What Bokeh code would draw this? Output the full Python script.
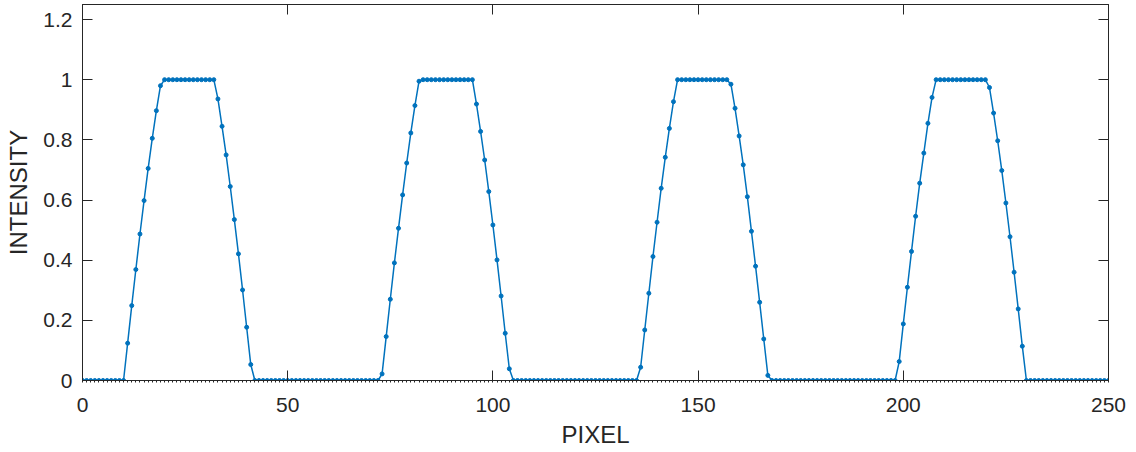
from bokeh.plotting import figure
from bokeh.models import LinearAxis, FixedTicker, CustomJSTickFormatter, Range1d, ColumnDataSource
from bokeh.embed import file_html
from bokeh.resources import INLINE

# ---- data ----
pixel = list(range(251))
intensity = [
    0, 0, 0, 0, 0, 0, 0, 0, 0, 0, 0,
    0.124, 0.249, 0.369, 0.487, 0.598, 0.705, 0.805, 0.897, 0.980,
    1, 1, 1, 1, 1, 1, 1, 1, 1, 1, 1, 1, 1,
    0.936, 0.845, 0.750, 0.645, 0.535, 0.421, 0.301, 0.177, 0.053,
    0, 0, 0, 0, 0, 0, 0, 0, 0, 0, 0, 0, 0, 0, 0, 0, 0, 0, 0, 0, 0, 0, 0, 0, 0, 0, 0, 0, 0, 0, 0,
    0.022, 0.146, 0.270, 0.391, 0.506, 0.617, 0.723, 0.823, 0.914, 0.995,
    1, 1, 1, 1, 1, 1, 1, 1, 1, 1, 1, 1, 1,
    0.919, 0.828, 0.733, 0.628, 0.517, 0.401, 0.281, 0.157, 0.039,
    0, 0, 0, 0, 0, 0, 0, 0, 0, 0, 0, 0, 0, 0, 0, 0, 0, 0, 0, 0, 0, 0, 0, 0, 0, 0, 0, 0, 0, 0, 0,
    0.044, 0.168, 0.290, 0.412, 0.526, 0.639, 0.742, 0.838, 0.927,
    1, 1, 1, 1, 1, 1, 1, 1, 1, 1, 1, 1, 1,
    0.985, 0.905, 0.813, 0.717, 0.611, 0.496, 0.380, 0.260, 0.138, 0.017,
    0, 0, 0, 0, 0, 0, 0, 0, 0, 0, 0, 0, 0, 0, 0, 0, 0, 0, 0, 0, 0, 0, 0, 0, 0, 0, 0, 0, 0, 0, 0,
    0.063, 0.188, 0.310, 0.429, 0.546, 0.656, 0.756, 0.855, 0.941,
    1, 1, 1, 1, 1, 1, 1, 1, 1, 1, 1, 1, 1,
    0.974, 0.889, 0.797, 0.698, 0.590, 0.478, 0.360, 0.238, 0.114,
    0, 0, 0, 0, 0, 0, 0, 0, 0, 0, 0, 0, 0, 0, 0, 0, 0, 0, 0, 0, 0,
]
x_ticks = [0, 50, 100, 150, 200, 250]
x_minor_ticks = list(range(0, 251))
y_ticks = [0, 0.2, 0.4, 0.6, 0.8, 1.0, 1.2]
x_label = "PIXEL"
y_label = "INTENSITY"

FONT = "Liberation Sans"
AXC = "#262626"
BLUE = "#0072BD"

src = ColumnDataSource(dict(x=pixel, y=intensity))

p = figure(frame_width=1026, frame_height=376,
           x_range=Range1d(0, 250), y_range=Range1d(0, 1.25),
           output_backend="svg", toolbar_location=None,
           min_border_left=82, min_border_top=4, min_border_right=28, min_border_bottom=70,
           background_fill_color="white", border_fill_color="white")
p.xgrid.visible = False
p.ygrid.visible = False
p.outline_line_color = AXC
p.outline_line_width = 1

yfmt = CustomJSTickFormatter(code="return String(Math.round(tick*10)/10);")
blank = CustomJSTickFormatter(code="return '';")

def style(ax, show_labels=True, minor=False):
    ax.axis_line_color = AXC
    ax.axis_line_width = 1
    ax.major_tick_line_color = AXC
    ax.major_tick_in = 10
    ax.major_tick_out = 0
    if minor:
        ax.minor_tick_line_color = AXC
        ax.minor_tick_in = 0
        ax.minor_tick_out = 2
    else:
        ax.minor_tick_line_color = None
    ax.major_label_text_font = FONT
    ax.major_label_text_font_size = "21px"
    ax.major_label_text_color = AXC
    ax.axis_label_text_font = FONT
    ax.axis_label_text_font_size = "24px"
    ax.axis_label_text_font_style = "normal"
    ax.axis_label_text_color = AXC
    if not show_labels:
        ax.formatter = blank
        ax.major_label_standoff = 0

xa = p.xaxis[0]
xa.ticker = FixedTicker(ticks=x_ticks, minor_ticks=x_minor_ticks)
style(xa, minor=True)
xa.axis_label = x_label
xa.major_label_standoff = 15
xa.axis_label_standoff = 6

ya = p.yaxis[0]
ya.ticker = FixedTicker(ticks=y_ticks)
ya.formatter = yfmt
style(ya)
ya.axis_label = y_label
ya.major_label_standoff = 10
ya.axis_label_standoff = 8

top = LinearAxis(ticker=FixedTicker(ticks=x_ticks))
style(top, show_labels=False)
p.add_layout(top, "above")
right = LinearAxis(ticker=FixedTicker(ticks=y_ticks))
style(right, show_labels=False)
p.add_layout(right, "right")

p.line("x", "y", source=src, line_color=BLUE, line_width=1.5)
p.scatter("x", "y", source=src, size=4, color=BLUE)

open("out.html", "w").write(file_html(p, INLINE))
